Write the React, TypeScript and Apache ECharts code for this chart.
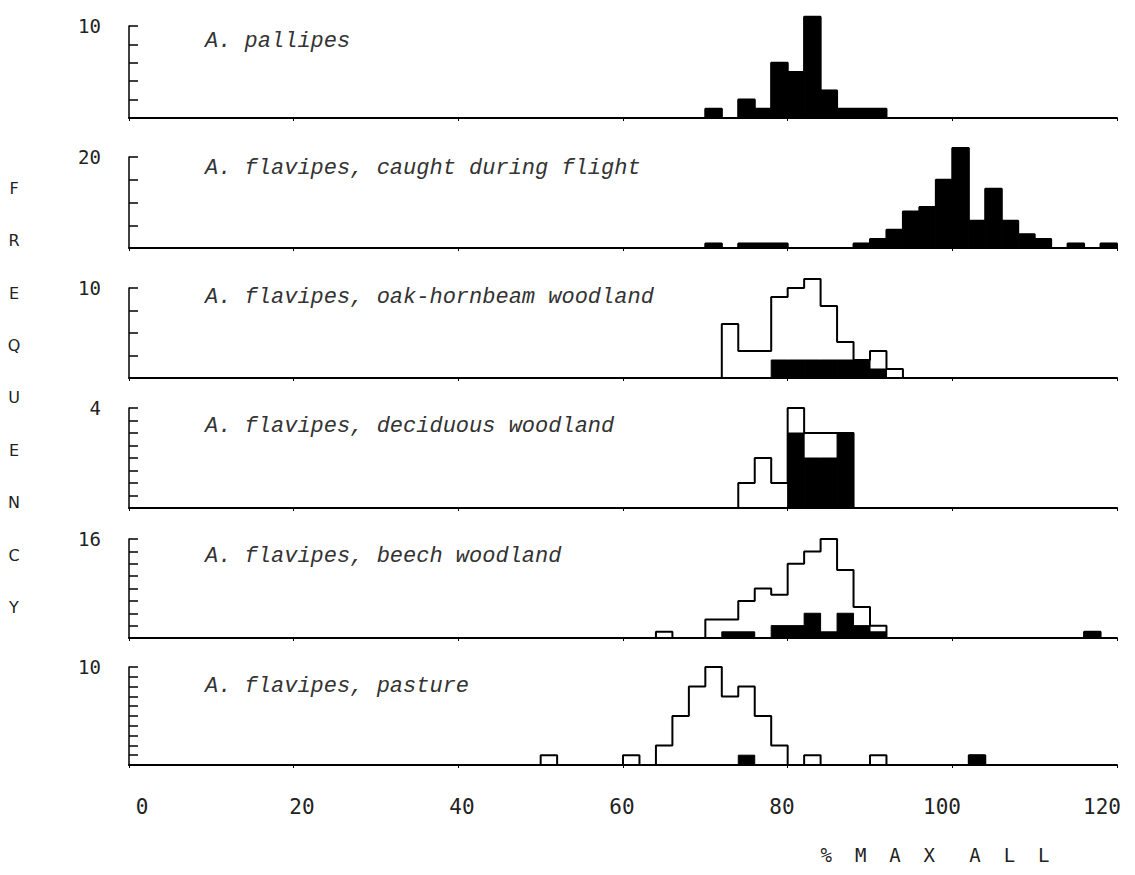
import React, { useEffect, useRef } from "react";
import * as echarts from "echarts";

// ---- data (bin lower edges, % MAX ALL; every bin is 2 units wide) ----
const BIN_WIDTH = 2;

const pallipesBins = [70, 74, 76, 78, 80, 82, 84, 86, 88, 90];
const pallipesTotal = [1, 2, 1, 6, 5, 11, 3, 1, 1, 1];
const pallipesBlack = [1, 2, 1, 6, 5, 11, 3, 1, 1, 1];

const flightBins = [70, 74, 76, 78, 88, 90, 92, 94, 96, 98, 100, 102, 104, 106, 108, 110, 114, 118];
const flightTotal = [1, 1, 1, 1, 1, 2, 4, 8, 9, 15, 22, 6, 13, 6, 3, 2, 1, 1];
const flightBlack = [1, 1, 1, 1, 1, 2, 4, 8, 9, 15, 22, 6, 13, 6, 3, 2, 1, 1];

const oakBins = [72, 74, 76, 78, 80, 82, 84, 86, 88, 90, 92];
const oakTotal = [6, 3, 3, 9, 10, 11, 8, 4, 2, 3, 1];
const oakBlack = [0, 0, 0, 2, 2, 2, 2, 2, 2, 1, 0];

const decidBins = [74, 76, 78, 80, 82, 84, 86];
const decidTotal = [1, 2, 1, 4, 3, 3, 3];
const decidBlack = [0, 0, 0, 3, 2, 2, 3];

const beechBins = [64, 70, 72, 74, 76, 78, 80, 82, 84, 86, 88, 90, 116];
const beechTotal = [1, 3, 3, 6, 8, 7, 12, 14, 16, 11, 5, 2, 1];
const beechBlack = [0, 0, 1, 1, 0, 2, 2, 4, 1, 4, 2, 1, 1];

const pastureBins = [50, 60, 64, 66, 68, 70, 72, 74, 76, 78, 82, 90, 102];
const pastureTotal = [1, 1, 2, 5, 8, 10, 7, 8, 5, 2, 1, 1, 1];
const pastureBlack = [0, 0, 0, 0, 0, 0, 0, 1, 0, 0, 0, 0, 1];

const panelTitles = [
  "A. pallipes",
  "A. flavipes, caught during flight",
  "A. flavipes, oak-hornbeam woodland",
  "A. flavipes, deciduous woodland",
  "A. flavipes, beech woodland",
  "A. flavipes, pasture",
];
const panelYMax = [10, 20, 10, 4, 16, 10];
const panelYStep = [2, 5, 2.5, 0.5, 2, 1];

const X_MIN = 0;
const X_MAX = 120;
const X_STEP = 20;
const yAxisLetters = ["F", "R", "E", "Q", "U", "E", "N", "C", "Y"];
const xAxisTitle = "%  M  A  X   A  L  L";

// ---- layout (pixels) ----
const panelTop = [26, 157, 288, 408, 539, 667];
const panelHeight = [92, 91, 90, 100, 99, 98];
const titleY = [41, 168, 297, 426, 556, 686];
const PLOT_LEFT = 129;
const PLOT_WIDTH = 988;

const panelData = [
  [pallipesBins, pallipesTotal, pallipesBlack],
  [flightBins, flightTotal, flightBlack],
  [oakBins, oakTotal, oakBlack],
  [decidBins, decidTotal, decidBlack],
  [beechBins, beechTotal, beechBlack],
  [pastureBins, pastureTotal, pastureBlack],
];

function outline(bins: number[], total: number[]): number[][] {
  const pts: number[][] = [];
  let prevHi: number | null = null;
  bins.forEach((lo, i) => {
    const hi = lo + BIN_WIDTH;
    if (prevHi === null) pts.push([lo, 0]);
    else if (prevHi !== lo) {
      pts.push([prevHi, 0]);
      pts.push([lo, 0]);
    }
    pts.push([lo, total[i]]);
    pts.push([hi, total[i]]);
    prevHi = hi;
  });
  if (prevHi !== null) pts.push([prevHi, 0]);
  return pts;
}

const renderBlack = (params: any, api: any) => {
  const lo = api.value(0);
  const hi = api.value(1);
  const h = api.value(2);
  const p0 = api.coord([lo, h]);
  const p1 = api.coord([hi, 0]);
  return {
    type: "rect",
    shape: { x: p0[0], y: p0[1], width: p1[0] - p0[0], height: p1[1] - p0[1] },
    style: { fill: "#000", stroke: "#000", lineWidth: 1 },
  };
};

export default function App() {
  const ref = useRef<HTMLDivElement>(null);
  useEffect(() => {
    if (!ref.current) return;
    const chart = echarts.init(ref.current, undefined, { renderer: "svg" });
    const grids: any[] = [];
    const xAxes: any[] = [];
    const yAxes: any[] = [];
    const series: any[] = [];
    panelData.forEach(([bins, total, black], i) => {
      grids.push({ left: PLOT_LEFT, width: PLOT_WIDTH, top: panelTop[i], height: panelHeight[i] });
      xAxes.push({
        gridIndex: i,
        type: "value",
        min: X_MIN,
        max: X_MAX,
        interval: X_STEP,
        axisLine: { show: true, onZero: false, lineStyle: { color: "#000", width: 2 } },
        axisTick: { show: true, length: 3, lineStyle: { color: "#000", width: 1 } },
        axisLabel: { show: false },
        splitLine: { show: false },
      });
      const ymax = panelYMax[i];
      yAxes.push({
        gridIndex: i,
        type: "value",
        min: 0,
        max: ymax,
        interval: panelYStep[i],
        axisLine: { show: true, lineStyle: { color: "#000", width: 1.5 } },
        axisTick: { show: true, inside: true, length: 9, lineStyle: { color: "#000", width: 1.5 } },
        axisLabel: {
          formatter: (v: number) => (Math.abs(v - ymax) < 1e-9 ? String(ymax) : ""),
          margin: 28,
          fontFamily: "DejaVu Sans Mono",
          fontSize: 19,
          color: "#222",
        },
        splitLine: { show: false },
      });
      series.push({
        type: "custom",
        xAxisIndex: i,
        yAxisIndex: i,
        renderItem: renderBlack,
        data: bins
          .map((b, j) => [b, b + BIN_WIDTH, black[j]])
          .filter((d) => d[2] > 0),
        encode: { x: [0, 1], y: 2 },
        clip: false,
        silent: true,
        z: 2,
      });
      series.push({
        type: "line",
        xAxisIndex: i,
        yAxisIndex: i,
        data: outline(bins, total),
        symbol: "none",
        showSymbol: false,
        lineStyle: { color: "#000", width: 2 },
        clip: false,
        silent: true,
        z: 3,
      });
    });
    // bottom tick labels
    grids.push({ left: 142, width: 960, top: 788, height: 2 });
    xAxes.push({
      gridIndex: 6,
      type: "value",
      min: X_MIN,
      max: X_MAX,
      interval: X_STEP,
      axisLine: { show: false },
      axisTick: { show: false },
      splitLine: { show: false },
      axisLabel: { margin: 6, fontFamily: "DejaVu Sans Mono", fontSize: 21, color: "#222" },
    });
    yAxes.push({ gridIndex: 6, type: "value", show: false });

    const graphic: any[] = panelTitles.map((t, i) => ({
      type: "text",
      x: 205,
      y: titleY[i],
      silent: true,
      style: {
        text: t,
        font: 'italic 22px "Liberation Mono"',
        fill: "#333",
        verticalAlign: "middle",
      },
    }));
    graphic.push({
      type: "text",
      x: 14,
      y: 162,
      silent: true,
      style: {
        text: yAxisLetters.join("\n"),
        font: '16px "DejaVu Sans"',
        lineHeight: 52.4,
        fill: "#222",
        align: "center",
        verticalAlign: "top",
      },
    });
    graphic.push({
      type: "text",
      x: 935,
      y: 855,
      silent: true,
      style: {
        text: xAxisTitle,
        font: '19px "DejaVu Sans Mono"',
        fill: "#222",
        align: "center",
        verticalAlign: "middle",
      },
    });

    chart.setOption({
      animation: false,
      backgroundColor: "#fff",
      grid: grids,
      xAxis: xAxes,
      yAxis: yAxes,
      series,
      graphic,
    });
    return () => chart.dispose();
  }, []);
  return (
    <div
      ref={ref}
      style={{ position: "fixed", left: 0, top: 0, width: 1135, height: 875, background: "#fff" }}
    />
  );
}
